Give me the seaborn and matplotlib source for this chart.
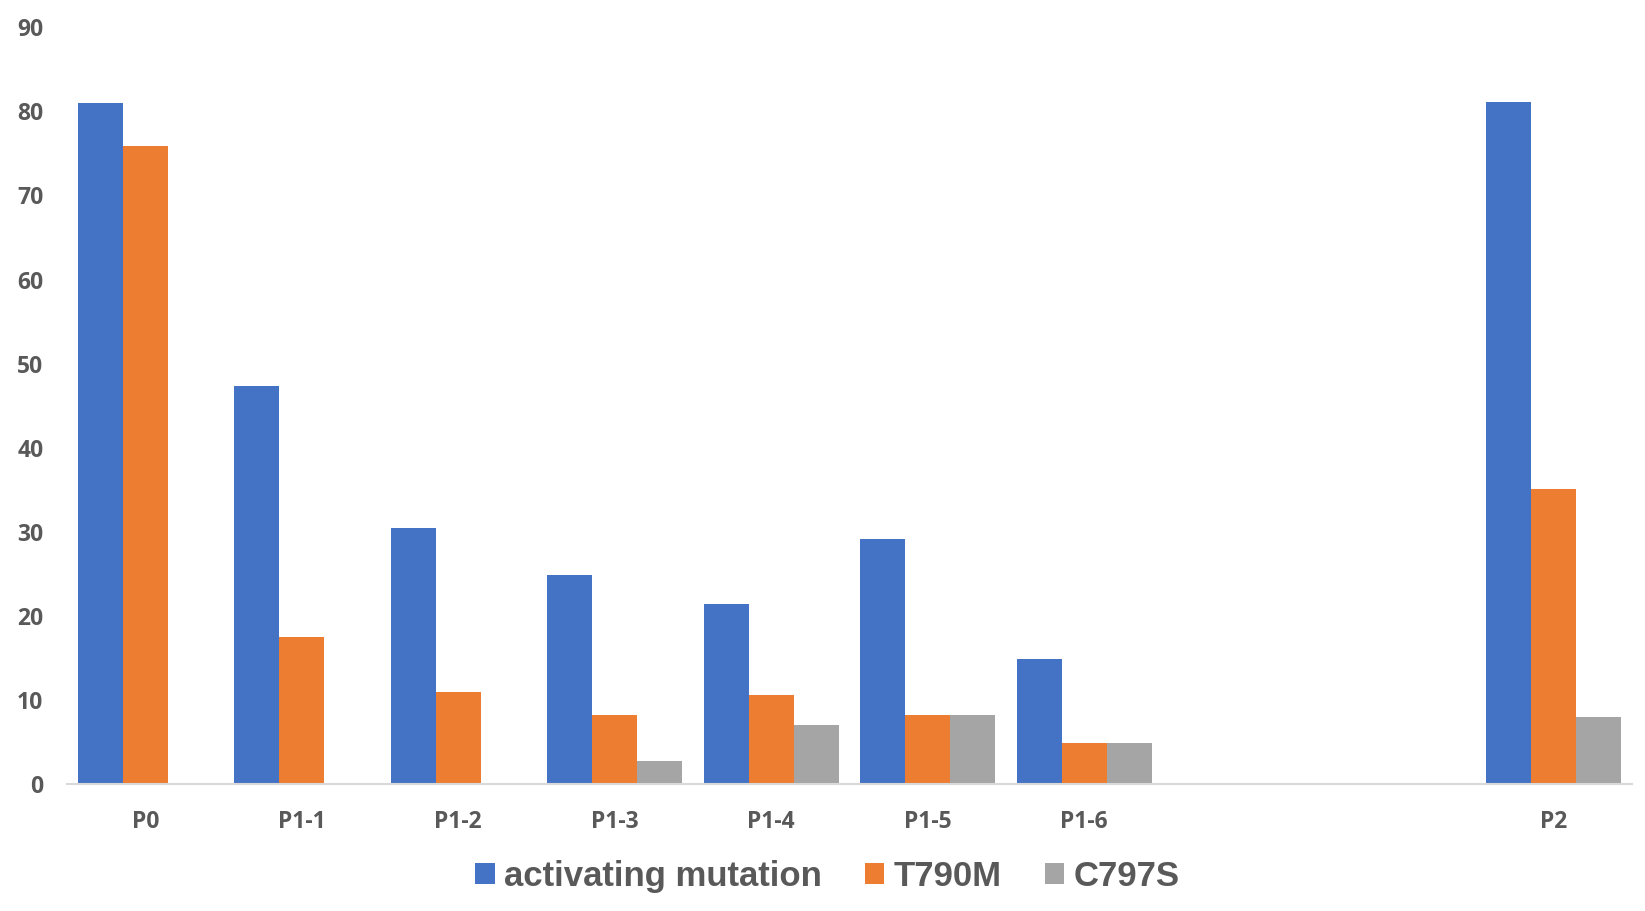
import numpy as np
import pandas as pd
import matplotlib.pyplot as plt
import seaborn as sns

# Data (two empty slots before P2)

categories = ["P0", "P1-1", "P1-2", "P1-3", "P1-4", "P1-5", "P1-6", "gap1", "gap2", "P2"]
tick_labels = ["P0", "P1-1", "P1-2", "P1-3", "P1-4", "P1-5", "P1-6", "", "", "P2"]

activating = [81, 47.3, 30.4, 24.9, 21.4, 29.1, 14.9, np.nan, np.nan, 81.1]
t790m = [75.9, 17.5, 10.9, 8.25, 10.6, 8.25, 4.9, np.nan, np.nan, 35.1]
c797s = [np.nan, np.nan, np.nan, 2.75, 7.0, 8.25, 4.9, np.nan, np.nan, 8.0]

series = ["activating mutation", "T790M", "C797S"]
colors = ["#4472C4", "#ED7D31", "#A5A5A5"]

df = pd.DataFrame({
    "sample": categories * 3,
    "mutation": [s for s in series for _ in categories],
    "value": activating + t790m + c797s,
})

sns.set_style("white")

fig = plt.figure(figsize=(16.45, 9.11), dpi=100)
ax = fig.add_axes([0.0407, 0.1394, 0.9514, 0.8306])

sns.barplot(
    data=df,
    x="sample",
    y="value",
    hue="mutation",
    order=categories,
    hue_order=series,
    palette=colors,
    saturation=1,
    width=0.86,
    errorbar=None,
    linewidth=0,
    ax=ax,
)

ax.set_ylim(0, 90)
ax.set_xlim(-0.5, len(categories) - 0.5)
ax.set_yticks(range(0, 91, 10))
ax.set_xticks(range(len(categories)))
ax.set_xticklabels(tick_labels)
ax.set_xlabel("")
ax.set_ylabel("")

for lab in ax.get_xticklabels() + ax.get_yticklabels():
    lab.set_fontfamily("Open Sans")
    lab.set_fontweight("bold")
    lab.set_fontsize(16.5)
    lab.set_color("#595959")

ax.tick_params(axis="x", length=0, pad=19)
ax.tick_params(axis="y", length=0, pad=17)

for side in ["top", "right", "left"]:
    ax.spines[side].set_visible(False)
ax.spines["bottom"].set_color("#D9D9D9")
ax.spines["bottom"].set_linewidth(1.5)
ax.grid(False)

# Legend at the bottom
handles, labels = ax.get_legend_handles_labels()
ax.legend_.remove()
fig.legend(
    handles,
    labels,
    loc="center",
    bbox_to_anchor=(0.503, 0.038),
    ncol=3,
    frameon=False,
    handlelength=0.55,
    handleheight=0.55,
    handletextpad=0.26,
    columnspacing=1.26,
    prop={"family": "Liberation Sans", "weight": "bold", "size": 25},
    labelcolor="#595959",
)

plt.savefig("out.png", dpi=100)
